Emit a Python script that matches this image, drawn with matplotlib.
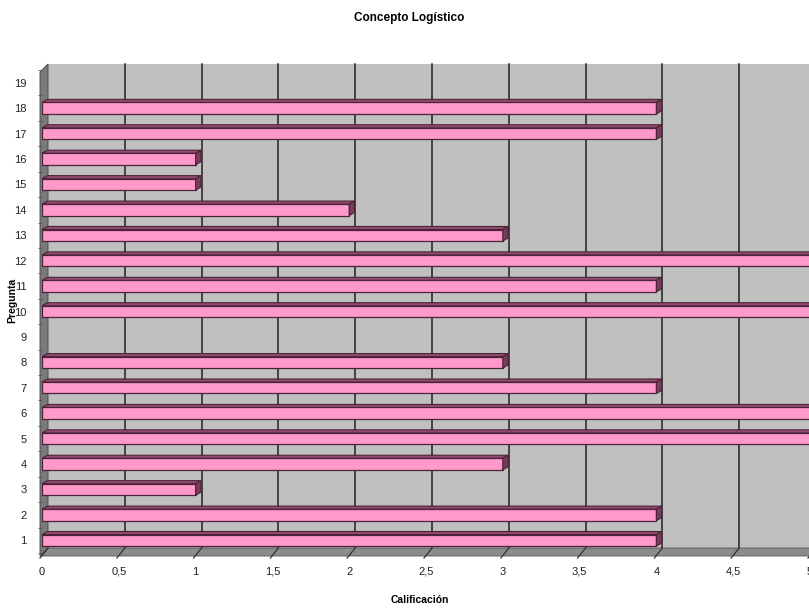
import numpy as np
import matplotlib
matplotlib.use("Agg")
import matplotlib.pyplot as plt
from matplotlib.patches import Polygon
import matplotlib.transforms as mtransforms

plt.rcParams['font.family'] = ['Liberation Sans', 'DejaVu Sans']

categories = [str(i) for i in range(1, 20)]
values = [4, 4, 1, 3, 5, 5, 4, 3, 0, 5, 4, 5, 3, 2, 1, 1, 4, 4, 0]
x_ticks = [0, 0.5, 1, 1.5, 2, 2.5, 3, 3.5, 4, 4.5, 5]
x_tick_labels = ['0', '0,5', '1', '1,5', '2', '2,5', '3', '3,5', '4', '4,5', '5']
title = 'Concepto Logístico'
xlabel = 'Calificación'
ylabel = 'Pregunta'

W, H = 809, 608
fig = plt.figure(figsize=(W / 100, H / 100), dpi=100)
ax = fig.add_axes([42 / W, (H - 553) / H, 768 / W, (553 - 70) / H])
ax.set_xlim(0, 5)
ax.set_ylim(0.5, 19.5)
ax.patch.set_alpha(0)
ax.set_zorder(3)
for s in ax.spines.values():
    s.set_visible(False)


def px(xp, yp):
    return (xp / W, (H - yp) / H)


# back wall, floor and side wall
back = Polygon([px(48, 548), px(820, 548), px(820, 64), px(48, 64)], closed=True,
               transform=fig.transFigure, facecolor='#C0C0C0', edgecolor='none', zorder=0)
floor = Polygon([px(40, 556), px(812, 556), px(820, 548), px(48, 548)],
                closed=True, transform=fig.transFigure, facecolor='#8C8C8C',
                edgecolor='#555555', lw=0.6, zorder=0.5)
side = Polygon([px(40, 556), px(48, 548), px(48, 64), px(40, 72)],
               closed=True, transform=fig.transFigure, facecolor='#7A7A7A',
               edgecolor='#444444', lw=0.6, zorder=0.5)
fig.patches.extend([back, floor, side])

# back-wall offset (3D depth)
off = mtransforms.ScaledTranslation(6 / 100, 6 / 100, fig.dpi_scale_trans)
for xv in x_ticks[1:]:
    ax.plot([xv, xv], [0.5, 19.5], color='#222222', lw=1.1,
            transform=ax.transData + off, clip_on=False, zorder=1)

# floor diagonals from front tick to back grid
for xv in x_ticks:
    x0 = ax.transData.transform((xv, 0.5))[0]
    ax.plot([x0 - 2, x0 + 6], [H - 558, H - 548], transform=mtransforms.IdentityTransform(),
            color='#333333', lw=0.9, clip_on=False, zorder=2)

# bars with 3D look
y = np.arange(1, 20)
h = 0.45
dx, dy = 0.035, 0.12
for yi, v in zip(y, values):
    if v <= 0:
        continue
    ax.barh(yi, v, height=h, left=0, color='#FF99CC', edgecolor='#4A2338', lw=0.9, zorder=4)
    top = Polygon([(0, yi + h / 2), (v, yi + h / 2), (v + dx, yi + h / 2 + dy), (0 + dx, yi + h / 2 + dy)],
                  closed=True, facecolor='#94496F', edgecolor='#4A2338', lw=0.8, zorder=4, clip_on=False)
    end = Polygon([(v, yi - h / 2), (v + dx, yi - h / 2 + dy), (v + dx, yi + h / 2 + dy), (v, yi + h / 2)],
                  closed=True, facecolor='#7A3A5A', edgecolor='#4A2338', lw=0.8, zorder=4, clip_on=False)
    ax.add_patch(top)
    ax.add_patch(end)

ax.set_yticks(y)
ax.set_yticklabels(categories, fontsize=8, color='#222222')
ax.set_yticks(np.arange(0.5, 20, 1), minor=True)
ax.tick_params(axis='y', which='major', length=0, pad=11)
ax.tick_params(axis='y', which='minor', length=3, color='#555555', direction='out')
ax.set_xticks(x_ticks)
ax.set_xticklabels(x_tick_labels, fontsize=8, color='#222222')
ax.tick_params(axis='x', length=0, pad=10)

fig.text(409 / W, 1 - 18 / H, title, ha='center', va='center', fontsize=8.5, fontweight='bold')
fig.text(420 / W, 1 - 600 / H, xlabel, ha='center', va='center', fontsize=7.5, fontweight='bold')
fig.text(12 / W, 1 - 300 / H, ylabel, ha='center', va='center', rotation=90, fontsize=7.5, fontweight='bold')

fig.savefig('out.png', dpi=100, facecolor='white')
